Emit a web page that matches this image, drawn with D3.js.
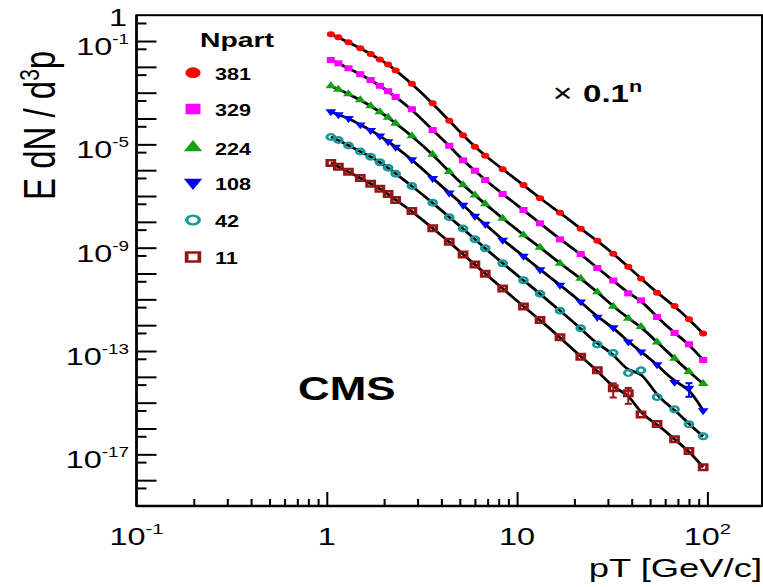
<!DOCTYPE html>
<html>
<head>
<meta charset="utf-8">
<script src="https://cdn.jsdelivr.net/npm/d3@7"></script>
<style>
  html, body { margin: 0; padding: 0; background: #fff; }
  svg { display: block; font-family: "Liberation Sans", Arial, Helvetica, sans-serif; }
</style>
</head>
<body>
<svg id="chart" width="763" height="587"></svg>
<script>
// Transverse-momentum bin centres [GeV/c]
const pT = [1.05, 1.15, 1.3, 1.5, 1.7, 1.9, 2.1, 2.3, 2.8, 3.6, 4.4, 5.2, 6.0, 6.8, 8.4,
            10.8, 13.2, 16.8, 21.6, 26.4, 32.0, 38.4, 44.8, 54.4, 67.2, 80.0, 95.0];

// Centrality classes (number of participants), plotted top to bottom
const npart = ["381", "329", "224", "108", "42", "11"];

// Invariant yields E dN/d3p per class, before the 0.1^n offset
const yield381 = [0.182, 0.139, 0.0893, 0.0523, 0.0315, 0.0193, 0.0123, 0.00723, 0.00223, 3.88e-4,
                  8.23e-5, 2.26e-5, 8.11e-6, 3.63e-6, 1.08e-6, 2.67e-7, 8.15e-8, 2.26e-8, 5.43e-9,
                  1.85e-9, 5.84e-10, 1.83e-10, 6.35e-11, 1.81e-11, 5.52e-12, 1.69e-12, 4.75e-13];
const yield329 = [0.184, 0.137, 0.0880, 0.0520, 0.0310, 0.0185, 0.0114, 0.00681, 0.00228, 3.59e-4,
                  8.79e-5, 2.41e-5, 9.54e-6, 4.17e-6, 1.20e-6, 2.87e-7, 8.78e-8, 2.11e-8, 5.69e-9,
                  1.63e-9, 5.36e-10, 1.71e-10, 9.17e-11, 2.07e-11, 4.97e-12, 1.83e-12, 4.48e-13];
const yield224 = [0.182, 0.135, 0.0890, 0.0521, 0.0305, 0.0182, 0.0110, 0.00653, 0.00210, 4.12e-4,
                  8.73e-5, 2.67e-5, 1.09e-5, 4.91e-6, 1.37e-6, 3.09e-7, 1.03e-7, 2.48e-8, 6.52e-9,
                  1.92e-9, 5.37e-10, 1.84e-10, 8.72e-11, 2.19e-11, 5.21e-12, 1.58e-12, 5.41e-13];
const yield108 = [0.184, 0.143, 0.102, 0.0576, 0.0350, 0.0214, 0.0129, 0.00790, 0.00255, 4.85e-4,
                  1.34e-4, 4.49e-5, 1.68e-5, 8.25e-6, 1.98e-6, 4.76e-7, 1.43e-7, 3.59e-8, 8.10e-9,
                  2.07e-9, 8.12e-10, 2.29e-10, 9.39e-11, 3.00e-11, 6.19e-12, 3.69e-12, 4.97e-13];
const yield42  = [0.193, 0.147, 0.0902, 0.0529, 0.0332, 0.0204, 0.0124, 0.00731, 0.00244, 5.51e-4,
                  1.50e-4, 5.52e-5, 2.11e-5, 9.45e-6, 2.48e-6, 5.45e-7, 1.65e-7, 3.63e-8, 7.56e-9,
                  1.78e-9, 8.36e-10, 1.41e-10, 1.79e-10, 1.66e-11, 5.53e-12, 1.46e-12, 4.98e-13];
const yield11  = [0.190, 0.136, 0.0873, 0.0498, 0.0300, 0.0192, 0.0120, 0.00701, 0.00263, 5.62e-4,
                  1.70e-4, 5.44e-5, 2.23e-5, 9.82e-6, 2.63e-6, 5.28e-7, 1.58e-7, 3.39e-8, 6.01e-9,
                  1.79e-9, 3.59e-10, 2.30e-10, 3.48e-11, 1.49e-11, 3.81e-12, 1.34e-12, 3.17e-13];

// Statistical errors on the few points where they are larger than the marker (bin index -> error)
const err108 = { 25: 2.0e-12 };
const err11  = { 20: 2.0e-10, 21: 1.4e-10 };

// Axis tick labels (powers of ten)
const xTickExps = [-1, 0, 1, 2];
const yTickExps = [0, -1, -5, -9, -13, -17];

// ---------------------------------------------------------------------------
(function () {
const series = [
  { name: npart[0], values: yield381, err: {},     symbol: d3.symbolCircle,   size: 28, lsize: 90,  fill: "#ff0000", stroke: "none",    sw: 0,   rot: 0 },
  { name: npart[1], values: yield329, err: {},     symbol: d3.symbolSquare,   size: 36, lsize: 110, fill: "#ff00ff", stroke: "none",    sw: 0,   rot: 0 },
  { name: npart[2], values: yield224, err: {},     symbol: d3.symbolTriangle, size: 28, lsize: 72,  fill: "#14a014", stroke: "none",    sw: 0,   rot: 0 },
  { name: npart[3], values: yield108, err: err108, symbol: d3.symbolTriangle, size: 28, lsize: 72,  fill: "#0000ff", stroke: "none",    sw: 0,   rot: 180 },
  { name: npart[4], values: yield42,  err: {},     symbol: d3.symbolCircle,   size: 26, lsize: 62,  fill: "none",    stroke: "#149999", sw: 2.2, rot: 0 },
  { name: npart[5], values: yield11,  err: err11,  symbol: d3.symbolSquare,   size: 30, lsize: 80,  fill: "none",    stroke: "#981414", sw: 2.5, rot: 0 }
];

const SX = 1.35;          // horizontal stretch of glyphs and markers
const pLeft = 136.5, pTop = 15.2, pRight = 762, pBottom = 506;

const x = d3.scaleLog().domain([0.1, 100]).range([pLeft, 707.4]);
const y = d3.scaleLog().domain([1e-19, 1]).range([pBottom, pTop]);

const svg = d3.select("#chart");

// Spectra lines (smoothed fits through the points)
const line = d3.line()
  .x((d, i) => x(pT[i]))
  .y(d => y(d))
  .curve(d3.curveBasis);

const gLines = svg.append("g");
series.forEach((s, n) => {
  const scaled = s.values.map(v => v * Math.pow(0.1, n));
  gLines.append("path")
    .attr("d", line(scaled))
    .attr("fill", "none")
    .attr("stroke", "#000")
    .attr("stroke-width", 2.8);
});

// Error bars
const gErr = svg.append("g");
series.forEach((s, n) => {
  const f = Math.pow(0.1, n);
  Object.keys(s.err).forEach(k => {
    const i = +k, v = s.values[i], e = s.err[k];
    const cx = x(pT[i]);
    const col = s.stroke !== "none" ? s.stroke : s.fill;
    const y1 = y((v + e) * f), y2 = y((v - e) * f);
    gErr.append("line").attr("x1", cx).attr("x2", cx).attr("y1", y1).attr("y2", y2)
      .attr("stroke", col).attr("stroke-width", 2);
    [y1, y2].forEach(yy => gErr.append("line")
      .attr("x1", cx - 3.5).attr("x2", cx + 3.5).attr("y1", yy).attr("y2", yy)
      .attr("stroke", col).attr("stroke-width", 2));
  });
});

// Markers
const gPts = svg.append("g");
series.forEach((s, n) => {
  const f = Math.pow(0.1, n);
  const sym = d3.symbol().type(s.symbol).size(s.size);
  gPts.selectAll(null)
    .data(s.values)
    .enter().append("path")
    .attr("d", sym)
    .attr("transform", (d, i) => `translate(${x(pT[i])},${y(d * f)}) scale(${SX},1) rotate(${s.rot})`)
    .attr("fill", s.fill)
    .attr("stroke", s.stroke)
    .attr("stroke-width", s.sw);
});

// Axes: ticks drawn inside the frame
function styleAxis(g) {
  g.select(".domain").remove();
  g.selectAll(".tick line").attr("stroke", "#000").attr("stroke-width", 2);
  g.selectAll(".tick text").remove();
}
const xMinor = [];
[0.1, 1, 10].forEach(b => { for (let k = 2; k <= 9; k++) xMinor.push(b * k); });
svg.append("g").attr("transform", `translate(0,${pBottom})`)
  .call(d3.axisBottom(x).tickValues([1, 10, 100]).tickSize(-14).tickFormat(""))
  .call(styleAxis);
svg.append("g").attr("transform", `translate(0,${pBottom})`)
  .call(d3.axisBottom(x).tickValues(xMinor).tickSize(-7).tickFormat(""))
  .call(styleAxis);

const yMajor = d3.range(-1, -19, -1).map(e => Math.pow(10, e));
const yMinor = d3.range(-1, -20, -1).map(e => 5 * Math.pow(10, e));
svg.append("g").attr("transform", `translate(${pLeft},0)`)
  .call(d3.axisLeft(y).tickValues(yMajor).tickSize(-20).tickFormat(""))
  .call(styleAxis);
svg.append("g").attr("transform", `translate(${pLeft},0)`)
  .call(d3.axisLeft(y).tickValues(yMinor).tickSize(-10).tickFormat(""))
  .call(styleAxis);

// Frame
svg.append("rect")
  .attr("x", pLeft).attr("y", pTop)
  .attr("width", pRight - pLeft).attr("height", pBottom - pTop)
  .attr("fill", "none").attr("stroke", "#000").attr("stroke-width", 2);
svg.append("line")
  .attr("x1", pLeft).attr("x2", pLeft).attr("y1", pTop).attr("y2", pBottom)
  .attr("stroke", "#000").attr("stroke-width", 2.6);
svg.append("line")
  .attr("x1", pLeft).attr("x2", pRight).attr("y1", pBottom).attr("y2", pBottom)
  .attr("stroke", "#000").attr("stroke-width", 2.6);

// Text helper: stretched glyphs
function txt(px, py, opts) {
  return svg.append("text")
    .attr("transform", `translate(${px},${py}) scale(${opts.sx || SX},1)${opts.rot ? " rotate(" + opts.rot + ")" : ""}`)
    .attr("text-anchor", opts.anchor || "start")
    .attr("font-size", opts.size)
    .attr("font-weight", opts.weight || "normal")
    .attr("fill", "#000");
}
function powerLabel(t, e, supSize, dy) {
  if (e === 0) { t.text("1"); return; }
  if (e === 1) { t.text("10"); return; }
  t.append("tspan").text("10");
  t.append("tspan").attr("font-size", supSize).attr("dy", dy).text(String(e));
}

// Tick labels
xTickExps.forEach(e => {
  const t = txt(x(Math.pow(10, e)), 545, { anchor: "middle", size: 24 });
  powerLabel(t, e, 15, -11);
});
yTickExps.forEach(e => {
  if (e === 0) {
    txt(127, y(1) + 10.5, { anchor: "end", size: 24 }).text("1");
    return;
  }
  const t = txt(129, y(Math.pow(10, e)) + 14, { anchor: "end", size: 24 });
  powerLabel(t, e, 14, -11);
});

// Axis titles
const yt = txt(55, 200, { size: 33, rot: -90 });
yt.append("tspan").text("E dN / d");
yt.append("tspan").attr("font-size", 21).attr("dy", -12).text("3");
yt.append("tspan").attr("dy", 12).text("p");

txt(762, 577, { anchor: "end", size: 26, sx: 1.4 }).text("pT [GeV/c]");

// Legend
txt(200, 47, { size: 21, weight: "bold" }).text("Npart");
const legY = [72.7, 109, 147.5, 182.5, 220, 257];
series.forEach((s, n) => {
  const sym = d3.symbol().type(s.symbol).size(s.lsize);
  svg.append("path")
    .attr("d", sym)
    .attr("transform", `translate(193,${legY[n]}) scale(1.42,1) rotate(${s.rot})`)
    .attr("fill", s.fill)
    .attr("stroke", s.stroke)
    .attr("stroke-width", s.sw * 1.05);
  txt(215, legY[n] + 7.3, { size: 16, weight: "bold" }).text(s.name);
});

// Offset note and experiment label
txt(562.5, 101.5, { anchor: "middle", size: 25 }).text("×");
const off = txt(583, 102, { size: 24.5, weight: "bold" });
off.append("tspan").text("0.1");
off.append("tspan").attr("font-size", 16).attr("dy", -10).text("n");

txt(298, 400, { size: 32.5, weight: "bold" }).text("CMS");
})();
</script>
</body>
</html>
